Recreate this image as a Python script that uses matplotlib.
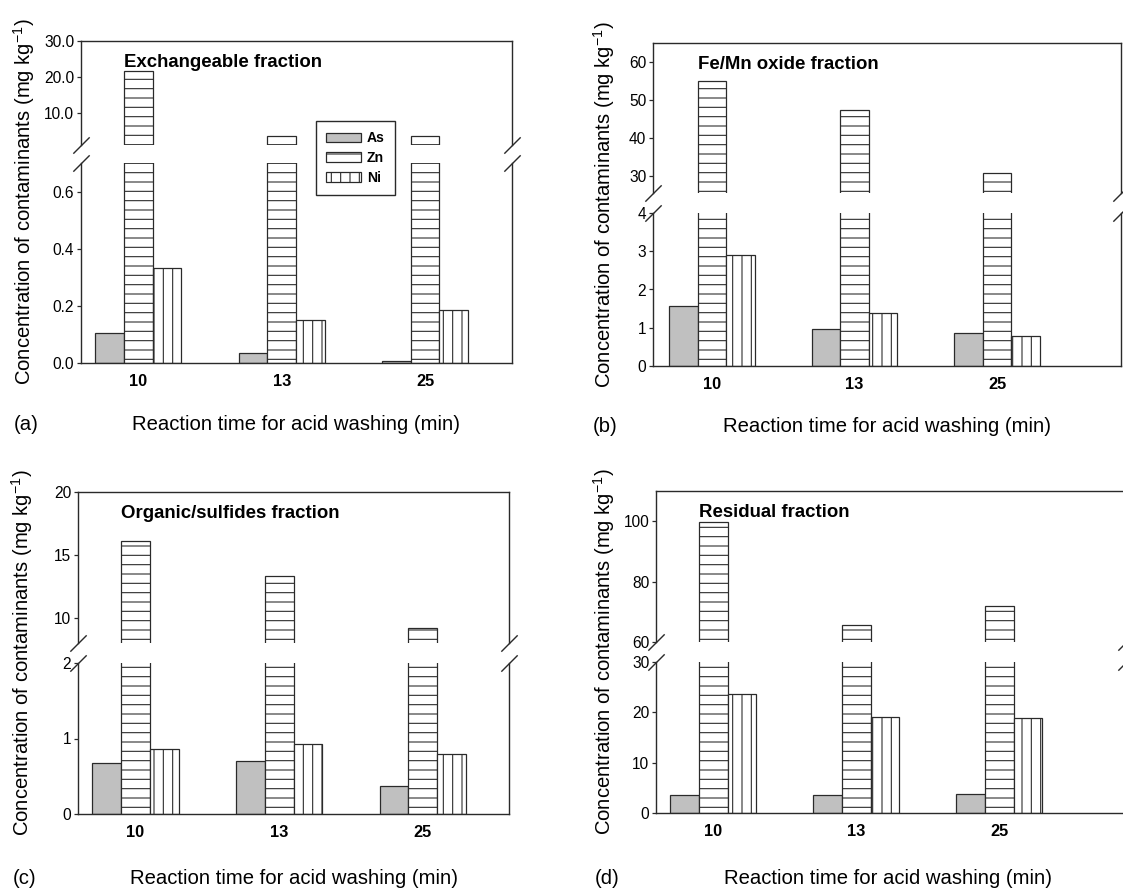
import numpy as np
import matplotlib
matplotlib.use("Agg")
import matplotlib.pyplot as plt
from matplotlib.ticker import FormatStrFormatter

plt.rcParams["font.family"] = ["Liberation Sans", "DejaVu Sans"]
plt.rcParams["mathtext.fontset"] = "custom"
plt.rcParams["mathtext.rm"] = "Liberation Sans"
plt.rcParams["mathtext.default"] = "regular"
plt.rcParams["hatch.linewidth"] = 0.7
plt.rcParams["hatch.color"] = "#222222"

# reaction times (min) and metals
times = ["10", "13", "25"]
metals = ["As", "Zn", "Ni"]

# concentrations, mg/kg, one list per metal and fraction
exch_as = [0.105, 0.036, 0.008]
exch_zn = [21.5, 3.6, 3.6]
exch_ni = [0.331, 0.150, 0.185]

femn_as = [1.56, 0.97, 0.87]
femn_zn = [55.0, 47.4, 30.7]
femn_ni = [2.89, 1.39, 0.78]

org_as = [0.68, 0.70, 0.37]
org_zn = [16.1, 13.3, 9.2]
org_ni = [0.855, 0.925, 0.80]

res_as = [3.5, 3.5, 3.7]
res_zn = [99.6, 65.5, 71.9]
res_ni = [23.6, 19.1, 18.8]

titles = ["Exchangeable fraction", "Fe/Mn oxide fraction",
          "Organic/sulfides fraction", "Residual fraction"]
panel_tags = ["(a)", "(b)", "(c)", "(d)"]

W, H, DPI = 1123, 889, 112
EDGE = "#2a2a2a"
AS_GRAY = "#c0c0c0"

fig = plt.figure(figsize=(W / DPI, H / DPI), dpi=DPI, facecolor="white")


def px_rect(left, right, top, bottom):
    return [left / W, 1 - bottom / H, (right - left) / W, (bottom - top) / H]


def style_axis(ax, ylim, yticks, fmt):
    ax.set_ylim(*ylim)
    ax.set_yticks(yticks)
    if fmt:
        ax.yaxis.set_major_formatter(FormatStrFormatter(fmt))
    ax.tick_params(axis="y", direction="out", length=2.8, width=0.8,
                   pad=1.5, labelsize=10, colors=EDGE, labelcolor="black")
    for sp in ax.spines.values():
        sp.set_color(EDGE)
        sp.set_linewidth(0.9)


def draw_panel(geom, xlim, hi, lo, as_vals, zn_vals, ni_vals, title, tag):
    left, right, top, hi_bot, lo_top, bot, ylab_x, tag_x, lab_y = geom
    ax_hi = fig.add_axes(px_rect(left, right, top, hi_bot))
    ax_lo = fig.add_axes(px_rect(left, right, lo_top, bot))
    x = np.arange(len(times))
    w = 0.2
    handles = []
    for ax in (ax_hi, ax_lo):
        h_as = ax.bar(x - w, as_vals, w, color=AS_GRAY, edgecolor=EDGE, linewidth=0.8)
        h_zn = ax.bar(x, zn_vals, w, facecolor="white", edgecolor=EDGE,
                      linewidth=0.8, hatch="--")
        h_ni = ax.bar(x + w, ni_vals, w, facecolor="white", edgecolor=EDGE,
                      linewidth=0.8, hatch="||")
        ax.set_xlim(*xlim)
        handles = [h_as, h_zn, h_ni]

    style_axis(ax_hi, hi[0], hi[1], hi[2])
    style_axis(ax_lo, lo[0], lo[1], lo[2])

    ax_hi.spines["bottom"].set_visible(False)
    ax_hi.tick_params(axis="x", bottom=False, labelbottom=False)
    ax_lo.spines["top"].set_visible(False)
    ax_lo.set_xticks(x)
    ax_lo.set_xticklabels(times, fontweight="bold", fontsize=10.5)
    ax_lo.tick_params(axis="x", length=0, pad=7)

    # slanted break marks on both spines
    kw = dict(marker=[(-1, -1), (1, 1)], markersize=10.5, linestyle="none",
              color=EDGE, mec=EDGE, mew=0.9, clip_on=False)
    ax_hi.plot([0, 1], [0, 0], transform=ax_hi.transAxes, **kw)
    ax_lo.plot([0, 1], [1, 1], transform=ax_lo.transAxes, **kw)

    ax_hi.annotate(title, xy=(-w / 2, 1), xycoords=("data", "axes fraction"),
                   xytext=(0, -8.5), textcoords="offset points",
                   ha="left", va="top", fontsize=12, fontweight="bold")

    xc = (left + right) / 2 / W
    if right > W:
        xc = (left + 1121) / 2 / W
    fig.text(xc, 1 - lab_y / H, "Reaction time for acid washing (min)",
             ha="center", va="baseline", fontsize=13)
    fig.text(tag_x / W, 1 - lab_y / H, tag, ha="left", va="baseline", fontsize=13)
    fig.text(ylab_x / W, 1 - (top + bot) / 2 / H,
             "Concentration of contaminants (mg kg$^{-1}$)",
             rotation=90, ha="center", va="center", fontsize=13)
    return handles


# left, right, top, upper-axis bottom, lower-axis top, bottom,
# ylabel x, tag x, xlabel baseline (pixels)
geoms = [
    (81, 512, 41, 145, 163, 363, 24, 14, 430),
    (653, 1121, 43, 193, 213, 366, 604, 593, 432),
    (78, 509, 492, 643, 663, 814, 22, 13, 884),
    (656, 1126, 491, 642, 662, 813, 604, 595, 884),
]
xlims = [(-0.40, 2.606), (-0.414, 2.87), (-0.40, 2.60), (-0.40, 2.885)]
hi_specs = [
    ((1, 30), [10, 20, 30], "%.1f"),
    ((25.5, 65), [30, 40, 50, 60], None),
    ((8, 20), [10, 15, 20], None),
    ((60, 110), [60, 80, 100], None),
]
lo_specs = [
    ((0, 0.7), [0.0, 0.2, 0.4, 0.6], "%.1f"),
    ((0, 4), [0, 1, 2, 3, 4], None),
    ((0, 2), [0, 1, 2], None),
    ((0, 30), [0, 10, 20, 30], None),
]
series = [
    (exch_as, exch_zn, exch_ni),
    (femn_as, femn_zn, femn_ni),
    (org_as, org_zn, org_ni),
    (res_as, res_zn, res_ni),
]

legend_handles = None
for i in range(4):
    hs = draw_panel(geoms[i], xlims[i], hi_specs[i], lo_specs[i],
                    *series[i], titles[i], panel_tags[i])
    if i == 0:
        legend_handles = hs

leg = fig.legend(legend_handles, metals, loc="upper left",
                 bbox_to_anchor=(316 / W, 1 - 121 / H), borderaxespad=0,
                 fancybox=False, framealpha=1, edgecolor=EDGE,
                 prop={"weight": "bold", "size": 9},
                 handlelength=2.5, handleheight=0.64, handletextpad=0.42,
                 borderpad=0.72, labelspacing=0.42)
leg.get_frame().set_linewidth(0.9)

fig.savefig("out.png", dpi=DPI, facecolor="white")
